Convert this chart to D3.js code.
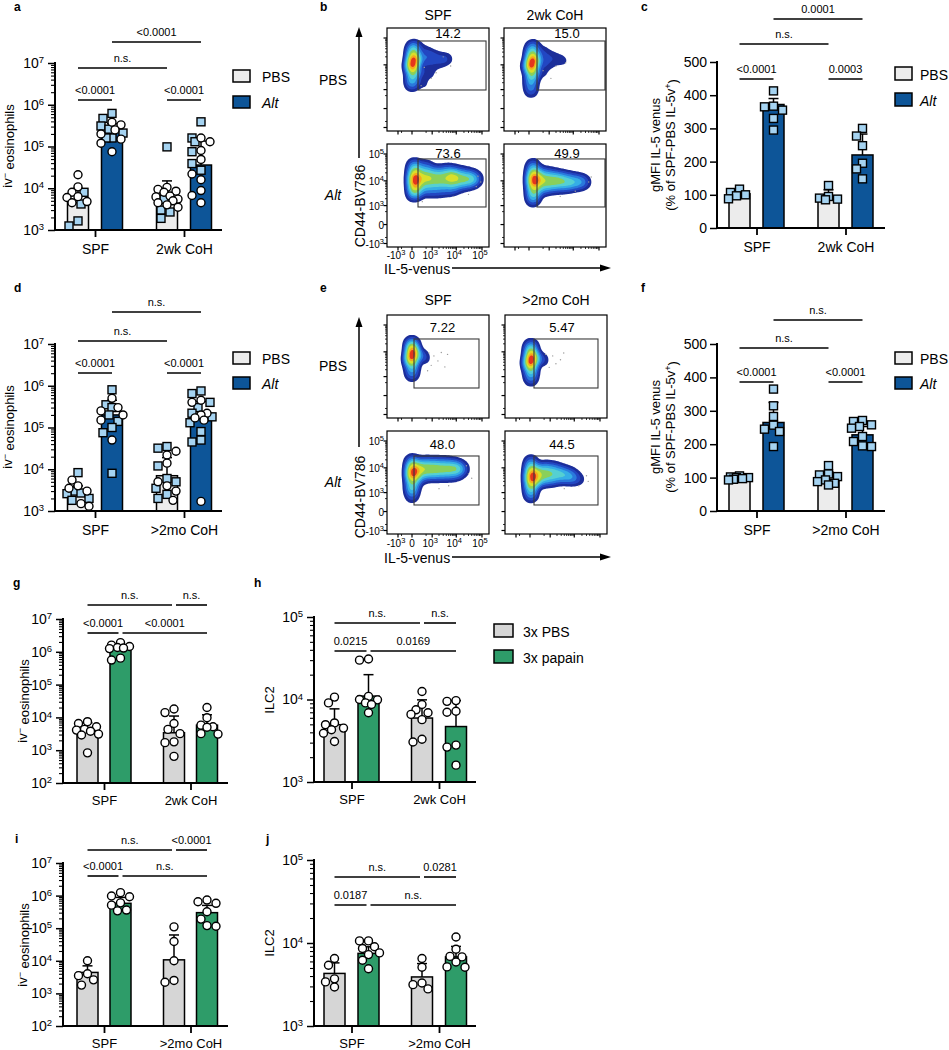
<!DOCTYPE html>
<html>
<head>
<meta charset="utf-8">
<script src="https://cdn.jsdelivr.net/npm/d3@7"></script>
<style>
  body { margin: 0; background: #fff; }
  svg text { font-family: "Liberation Sans", Arial, sans-serif; fill: #000; }
</style>
</head>
<body>
<svg id="fig" width="949" height="1050"></svg>
<script>
// ---------------- categories / series ----------------
var groups2wk = ["SPF", "2wk CoH"];
var groups2mo = ["SPF", ">2mo CoH"];
var seriesAlt = ["PBS", "Alt"];
var seriesPap = ["3x PBS", "3x papain"];

var ticksLog37 = [1e3, 1e4, 1e5, 1e6, 1e7];
var ticksLog27 = [1e2, 1e3, 1e4, 1e5, 1e6, 1e7];
var ticksLog35 = [1e3, 1e4, 1e5];
var ticksLin = [0, 100, 200, 300, 400, 500];

// bar order: SPF-PBS, SPF-treated, CoH-PBS, CoH-treated
// panel a : iv- eosinophils, 2wk CoH
var aMean = [4500, 220000, 6000, 36000];
var aErr = [10000, 350000, 15000, 135000];
var aCircles = [[21000, 10800, 8000, 6300, 6000, 4800, 4500],
                [380000, 330000, 250000, 200000, 150000, 120000, 75000],
                [10500, 9400, 8500, 8000, 6500, 6200, 5500, 5000, 4500, 4000, 3500],
                [160000, 130000, 80000, 49000, 22000, 16000, 8800, 6700, 4500]];
var aSquares = [[8000, 4200, 1650, 1250],
                [620000, 470000, 310000, 260000, 210000, 160000, 160000],
                [98000, 5400, 3000, 2700, 1900],
                [390000, 160000, 130000, 75000, 39000, 27000]];
var aSig = [["<0.0001", 0, 1, 0], ["<0.0001", 2, 3, 0], ["n.s.", 0, 2, 1], ["<0.0001", 1, 3, 2]];

// panel c : gMFI IL-5 venus, 2wk CoH
var cMean = [103, 372, 97, 220];
var cErr = [110, 390, 115, 283];
var cSquares = [[117, 107, 100, 97, 88],
                [413, 367, 365, 355, 330, 295],
                [128, 95, 90, 87, 85],
                [300, 277, 248, 195, 178, 148]];
var cSig = [["<0.0001", 0, 1, 0], ["0.0003", 2, 3, 0], ["n.s.", 0, 2, 1], ["0.0001", 1, 3, 2]];

// panel d : iv- eosinophils, >2mo CoH
var dMean = [3000, 200000, 7000, 180000];
var dErr = [4000, 450000, 19000, 420000];
var dCircles = [[5500, 4000, 3500, 3000, 1500, 1300],
                [500000, 300000, 250000, 200000, 150000, 50000],
                [27000, 22000, 14000, 5000, 4000, 3000, 1800],
                [450000, 400000, 220000, 200000, 170000, 150000, 1700]];
var dSquares = [[8300, 3000, 2700, 2600, 2000, 1800],
                [800000, 350000, 300000, 200000, 140000, 100000, 75000, 8000],
                [35000, 32000, 12000, 6000, 5000, 3500, 2500, 2000],
                [750000, 650000, 400000, 300000, 220000, 180000, 130000, 80000, 50000, 45000]];
var dSig = [["<0.0001", 0, 1, 0], ["<0.0001", 2, 3, 0], ["n.s.", 0, 2, 1], ["n.s.", 1, 3, 2]];

// panel f : gMFI IL-5 venus, >2mo CoH
var fMean = [100, 265, 102, 228];
var fErr = [106, 325, 118, 253];
var fSquares = [[105, 102, 100, 100, 97, 95, 93],
                [365, 315, 283, 257, 245, 238, 193],
                [136, 111, 108, 103, 93, 88, 83, 78],
                [271, 268, 258, 253, 248, 223, 208, 195, 193]];
var fSig = [["<0.0001", 0, 1, 0], ["<0.0001", 2, 3, 0], ["n.s.", 0, 2, 1], ["n.s.", 1, 3, 2]];

// panel g : iv- eosinophils, papain, 2wk CoH
var gMean = [4300, 1400000, 3400, 5800];
var gErr = [6800, 1600000, 11000, 12000];
var gCircles = [[7400, 6500, 5200, 4300, 4100, 3800, 3100, 2900, 830],
                [1900000, 1600000, 1450000, 1350000, 1300000, 1250000, 640000, 560000],
                [18000, 14000, 6500, 4300, 3200, 1800, 1700, 650],
                [20000, 9800, 5800, 5200, 5000, 3200, 3100]];
var gSig = [["<0.0001", 0, 1, 0], ["<0.0001", 1, 3, 0], ["n.s.", 0, 2, 1], ["n.s.", 2, 3, 1]];

// panel h : ILC2, papain, 2wk CoH
var hMean = [4950, 11000, 5960, 4700];
var hErr = [7700, 20000, 9900, 9700];
var hCircles = [[10700, 9100, 5200, 4950, 4500, 4300, 3900, 3100],
                [31000, 30000, 10900, 10000, 9900, 9100, 8700, 6900],
                [12500, 8700, 7500, 6900, 6600, 5700, 3300, 3050],
                [9700, 9500, 7200, 7000, 2800, 2650, 1600]];
var hSig = [["0.0215", 0, 1, 0], ["0.0169", 1, 3, 0], ["n.s.", 0, 2, 1], ["n.s.", 2, 3, 1]];

// panel i : iv- eosinophils, papain, >2mo CoH
var iMean = [4400, 580000, 10700, 300000];
var iErr = [7000, 880000, 62000, 500000];
var iCircles = [[10000, 4000, 3500, 2600, 1800],
                [1230000, 970000, 920000, 600000, 510000, 360000, 340000],
                [110000, 39000, 10000, 2500, 2200],
                [730000, 650000, 580000, 320000, 190000, 120000, 115000]];
var iSig = [["<0.0001", 0, 1, 0], ["n.s.", 1, 3, 0], ["n.s.", 0, 2, 1], ["<0.0001", 2, 3, 1]];

// panel j : ILC2, papain, >2mo CoH
var jMean = [4300, 7500, 3900, 6800];
var jErr = [5760, 9000, 5650, 9100];
var jCircles = [[6500, 5400, 3700, 3400, 2950],
                [10600, 10600, 9000, 8600, 7600, 7250, 6200, 4900],
                [6500, 5100, 3300, 3150, 2800],
                [11800, 8400, 6900, 6800, 5900, 5150, 5100]];
var jSig = [["0.0187", 0, 1, 0], ["n.s.", 1, 3, 0], ["n.s.", 0, 2, 1], ["0.0281", 2, 3, 1]];

// ---------------- flow cytometry (IL-5-venus vs CD44-BV786) ----------------
var flowRows = ["PBS", "Alt"];
var flowXTicks = [-1000, 0, 1000, 10000, 100000];
var flowYTicks = [100000, 10000, 1000, 0, -1000];
// gated % (PBS-SPF, PBS-CoH, Alt-SPF, Alt-CoH)
var gateNums2wk = ["14.2", "15.0", "73.6", "49.9"];
var gateNums2mo = ["7.22", "5.47", "48.0", "44.5"];
// gates: [venus min, venus max, CD44 min, CD44 max]
var gates2wk = [[141, 143000, 960, 77500], [207, 170000, 960, 77500],
                [141, 143000, 862, 65600], [207, 170000, 862, 65600]];
var gates2mo = [[39, 76500, 225, 30300], [85, 83600, 225, 30300],
                [39, 76500, 187, 27800], [85, 83600, 187, 27800]];
// density anchors [venus, CD44, weight]
var dens2wkPbsSpf = [[18,12800,10],[18,21500,7],[18,7600,7],[18,36000,4],[18,4470,5],[0,2580,3],[0,1600,2],[39,50700,2],[112,18100,3],[-39,9060,3],
  [331,36000,1],[331,15200,1.5],[331,5340,1.2],[331,1890,0.8],[706,23500,1.5],[881,10800,0.9],[881,4470,0.6],
  [1342,19700,1.2],[2000,9900,0.5],[2670,16600,0.9],[3550,16600,0.5],[4690,16600,0.6]];
var dens2wkPbsCoh = [[61,11750,10],[61,19700,7],[61,6960,7],[61,33000,4],[61,4090,5],[39,2350,3],[39,1310,2],[39,770,1.2],[85,50700,2],[172,16600,3],[-18,9060,3],
  [434,30300,1.3],[434,12800,1.5],[434,5340,1],[1090,21500,1],[1090,10800,0.8],[2430,16600,0.8],[4280,14000,0.5]];
var dens2wkAltSpf = [[39,10800,10],[39,18100,7],[39,6370,7],[39,30300,3.5],[39,4090,4],[39,2840,2.5],[39,42500,1.5],
  [207,11750,6],[207,21500,3.5],[207,6370,3.5],[207,36000,1.2],[207,3710,1.5],
  [557,12800,6.8],[557,23500,3.2],[557,6960,3.2],[557,39000,1],[557,4090,1.5],
  [1210,11750,5.5],[1210,21500,2.8],[1210,6370,2.8],[1210,3710,1.2],
  [2430,11750,5.5],[2430,21500,2.8],[2430,6370,2.8],[2430,3710,1],
  [4690,12800,5.8],[4690,23500,2.8],[4690,6960,2.8],[4690,4090,1],
  [8130,12800,6.8],[8130,21500,2.8],[8130,6960,2.8],[8130,4470,1],
  [15300,11750,5],[15300,19700,2.3],[15300,6960,2.3],
  [28700,11750,4],[28700,18100,1.8],[28700,7600,1.8],
  [49000,11750,2.5],[49000,16600,1],[49000,8300,1],[70000,11750,0.8]];
var dens2wkAltCoh = [[85,10800,10],[85,18100,7],[85,6370,7],[85,30300,3],[85,3710,4.5],[85,2350,3],[85,1600,1.5],[85,42500,1.2],
  [286,10800,7],[286,19700,3.5],[286,5830,3.5],[286,3400,1.2],
  [706,9900,6],[706,18100,3],[706,5340,3],
  [1490,9900,5.5],[1490,16600,2.5],[1490,5830,2.5],
  [2940,9900,5],[2940,15200,2],[2940,5830,2],
  [5650,9060,4],[5650,14000,1.6],[5650,5830,1.6],
  [10700,9060,3],[10700,12800,1.2],[10700,6370,1.2],
  [20000,9060,2],[20000,11750,0.8],[20000,6960,0.8],[31400,9060,1]];
var dens2moPbsSpf = [[0,7600,10],[0,12800,7],[0,4470,7],[0,18100,4],[0,2580,4],[0,1450,2],[0,23500,1.5],[0,1080,1],[39,9900,3],[207,7600,2],[380,5830,1.2],[-61,5340,3]];
var dens2moPbsCoh = [[18,4890,10],[18,8300,7],[18,2840,7],[18,12800,4],[18,1600,4],[18,960,2],[18,18100,2],[18,610,1],[85,6370,3],[245,5340,1.5],[434,4870,1],[-39,3710,3]];
var dens2moAltSpf = [[0,6370,10],[0,10800,7],[0,3710,7],[0,18100,3],[0,1890,4.5],[0,1190,3],[0,610,1.5],
  [141,8300,6],[141,14000,3],[141,4870,3.5],[141,2840,1.2],
  [434,9060,5.5],[434,15200,2.8],[434,5340,2.8],
  [1000,9060,5.5],[1000,15200,2.5],[1000,5340,2.5],
  [2000,9060,5],[2000,15200,2.2],[2000,5340,2.2],
  [3890,9060,5],[3890,15200,2.2],[3890,5340,2.2],
  [7430,9060,4.5],[7430,14000,2],[7430,5340,1.8],
  [12800,9060,3],[12800,12800,1.3],[12800,5830,1.3],[20000,9060,1.2]];
var dens2moAltCoh = [[18,4090,10],[18,6960,8],[18,2350,7],[18,11750,4],[18,1310,4.5],[18,690,2.5],[18,18100,2],
  [172,4870,6],[172,8300,4],[172,2840,4],
  [494,5830,5],[494,9900,3],[494,3400,3],
  [1090,5830,4.5],[1090,9900,2.5],[1090,3400,2.5],
  [2200,5830,3.5],[2200,9060,1.8],[2200,3710,1.8],
  [4280,5340,3],[4280,7600,1.3],[4280,3710,1.3],
  [8130,4470,2.2],[8130,6370,1],[8130,3400,1],[15300,3710,1.2]];
// sparse single events [venus, CD44]
var ev2wkPbsSpf = [[400,8000],[1500,5000],[3000,20000],[900,3000],[6000,9000],[250,1500]];
var ev2wkPbsCoh = [[500,6000],[2000,9000],[1200,3000],[5000,12000]];
var ev2wkAltSpf = [[70000,15000],[60000,6000],[30000,3000],[8000,2500],[300,1500],[90000,9000]];
var ev2wkAltCoh = [[40000,9000],[50000,14000],[12000,4000],[3000,2500]];
var ev2moPbsSpf = [[700,9000],[1200,7000],[2500,9500],[1800,4500],[900,3000],[4500,8000],[3500,2600],[600,1800]];
var ev2moPbsCoh = [[600,8000],[1300,7000],[2800,5000],[1800,3500],[3800,9000],[900,2500]];
var ev2moAltSpf = [[30000,6000],[40000,4000],[5000,2000],[2000,1500],[25000,12000]];
var ev2moAltCoh = [[30000,5000],[35000,3000],[15000,2000],[4000,1500]];

// ================= drawing =================
var svg = d3.select("#fig");
var BLACK = "#000";

function powText(sel, supSize) {
  sel.each(function(d) {
    var t = d3.select(this);
    t.text("");
    t.append("tspan").text("10");
    t.append("tspan").attr("dy", "-0.5em").attr("font-size", supSize).text(Math.round(Math.log10(d)));
  });
}

function dodge(items, y, cx, r) {
  var offs = [0, -6, 6, -3, 3, -9, 9, -11, 11];
  var placed = [];
  items.sort(function(a, b) { return b.v - a.v; }).forEach(function(it) {
    var py = y(it.v), best = 0, bestD = -1;
    for (var i = 0; i < offs.length; i++) {
      var dmin = Infinity;
      placed.forEach(function(q) {
        var dd = Math.hypot(q.x - (cx + offs[i]), q.y - py);
        if (dd < dmin) dmin = dd;
      });
      if (dmin >= 2 * r) { best = offs[i]; break; }
      if (dmin > bestD) { bestD = dmin; best = offs[i]; }
    }
    it.x = cx + best; it.y = py;
    placed.push(it);
  });
}

function barPanel(p) {
  var g = svg.append("g");
  var y = (p.log ? d3.scaleLog() : d3.scaleLinear()).domain(p.domain).range([p.yBot, p.yTop]);
  var x0 = d3.scalePoint().domain(p.groups).range(p.centers);
  var x1 = d3.scalePoint().domain(p.series).range([-p.off, p.off]);
  var r = 4;

  var bars = [];
  p.groups.forEach(function(gr, gi) {
    p.series.forEach(function(s, si) {
      var k = gi * 2 + si;
      var pts = (p.circles ? p.circles[k] : []).map(function(v) { return {v: v, shape: "c"}; })
        .concat((p.squares ? p.squares[k] : []).map(function(v) { return {v: v, shape: "s"}; }));
      bars.push({k: k, si: si, cx: x0(gr) + x1(s), mean: p.mean[k], err: p.err[k], pts: pts});
    });
  });

  g.selectAll("rect.bar").data(bars).join("rect").attr("class", "bar")
    .attr("x", function(d) { return d.cx - p.bw / 2; }).attr("width", p.bw)
    .attr("y", function(d) { return y(d.mean); })
    .attr("height", function(d) { return p.yBot - y(d.mean); })
    .attr("fill", function(d) { return p.colors[d.si]; })
    .attr("stroke", BLACK).attr("stroke-width", 1.5);

  // error bars (mean + SD, upper only)
  bars.forEach(function(b) {
    g.append("line").attr("x1", b.cx).attr("x2", b.cx).attr("y1", y(b.mean)).attr("y2", y(b.err))
      .attr("stroke", BLACK).attr("stroke-width", 1.5);
    g.append("line").attr("x1", b.cx - 5).attr("x2", b.cx + 5).attr("y1", y(b.err)).attr("y2", y(b.err))
      .attr("stroke", BLACK).attr("stroke-width", 1.5);
  });

  // individual mice
  bars.forEach(function(b) { dodge(b.pts, y, b.cx, r); });
  var allPts = bars.reduce(function(acc, b) { return acc.concat(b.pts); }, []);
  g.selectAll("rect.sq").data(allPts.filter(function(d) { return d.shape === "s"; })).join("rect")
    .attr("class", "sq")
    .attr("x", function(d) { return d.x - 4; }).attr("y", function(d) { return d.y - 4; })
    .attr("width", 8).attr("height", 8)
    .attr("fill", "#a5d3f1").attr("stroke", BLACK).attr("stroke-width", 1.4);
  g.selectAll("circle.pt").data(allPts.filter(function(d) { return d.shape === "c"; })).join("circle")
    .attr("class", "pt")
    .attr("cx", function(d) { return d.x; }).attr("cy", function(d) { return d.y; }).attr("r", r)
    .attr("fill", "#fff").attr("stroke", BLACK).attr("stroke-width", 1.4);

  // y axis
  var ya = g.append("g").attr("transform", "translate(" + p.ax + ",0)")
    .call(d3.axisLeft(y).tickValues(p.ticks).tickSize(7).tickPadding(p.log ? 4 : 3));
  ya.select(".domain").remove();
  ya.selectAll("line").attr("stroke", BLACK).attr("stroke-width", 1.5);
  ya.selectAll("text").attr("font-size", 14).attr("font-family", null);
  if (p.log) {
    powText(ya.selectAll("text"), 9.5);
    var minors = [];
    var lo = Math.round(Math.log10(p.domain[0])), hi = Math.round(Math.log10(p.domain[1]));
    for (var e = lo; e < hi; e++) for (var m = 2; m <= 9; m++) minors.push(m * Math.pow(10, e));
    var ym = g.append("g").attr("transform", "translate(" + p.ax + ",0)")
      .call(d3.axisLeft(y).tickValues(minors).tickSize(4).tickFormat(""));
    ym.select(".domain").remove();
    ym.selectAll("line").attr("stroke", BLACK).attr("stroke-width", 1.1);
  }
  g.append("line").attr("x1", p.ax).attr("x2", p.ax).attr("y1", p.yTop - 1).attr("y2", p.yBot)
    .attr("stroke", BLACK).attr("stroke-width", 2);

  // x axis
  var xa = g.append("g").attr("transform", "translate(0," + p.yBot + ")")
    .call(d3.axisBottom(x0).tickSize(7).tickPadding(p.catPad));
  xa.select(".domain").remove();
  xa.selectAll("line").attr("stroke", BLACK).attr("stroke-width", 1.8);
  xa.selectAll("text").attr("font-size", p.catSize).attr("font-family", null);
  g.append("line").attr("x1", p.ax - 1).attr("x2", p.axEnd).attr("y1", p.yBot).attr("y2", p.yBot)
    .attr("stroke", BLACK).attr("stroke-width", 2);

  // significance brackets
  p.sig.forEach(function(s) {
    var xa_ = bars[s[1]].cx, xb_ = bars[s[2]].cx, yy = p.sigY[s[3]];
    p.sig.forEach(function(o) {
      if (o === s || o[3] !== s[3]) return;
      if (o[1] === s[2] || o[2] === s[2]) xb_ -= 2;
      if (o[1] === s[1] || o[2] === s[1]) xa_ += 2;
    });
    g.append("line").attr("x1", xa_).attr("x2", xb_).attr("y1", yy).attr("y2", yy)
      .attr("stroke", BLACK).attr("stroke-width", 1.6);
    g.append("text").attr("x", (xa_ + xb_) / 2).attr("y", yy - 6).attr("text-anchor", "middle")
      .attr("font-size", 11).text(s[0]);
  });

  // legend
  if (p.legend) {
    p.series.forEach(function(s, i) {
      var ly = p.legend[1] + i * p.legend[2];
      g.append("rect").attr("x", p.legend[0]).attr("y", ly).attr("width", p.legend[3]).attr("height", p.legend[4])
        .attr("fill", p.colors[i]).attr("stroke", BLACK).attr("stroke-width", 1.5);
      g.append("text").attr("x", p.legend[0] + p.legend[5]).attr("y", ly + p.legend[4]).attr("font-size", 14)
        .style("font-style", s === "Alt" ? "italic" : null).text(s);
    });
  }

  // y label
  p.ylab.forEach(function(line) {
    var t = g.append("text").attr("transform", "translate(" + line.x + "," + p.ylabY + ") rotate(-90)")
      .attr("text-anchor", "middle").attr("font-size", 13);
    t.append("tspan").text(line.a);
    if (line.sup) {
      t.append("tspan").attr("dy", "-0.45em").attr("font-size", 9).text(line.sup);
      t.append("tspan").attr("dy", "0.45em").text(line.b);
    }
  });
}

var altColors = ["#ececec", "#0d5598"];
var papColors = ["#d6d6d6", "#2e9c69"];
var eosLab = function(x) { return [{x: x, a: "iv", sup: "\u2212", b: " eosinophils"}]; };
var mfiLab = [{x: 660, a: "gMFI IL-5 venus"}, {x: 675, a: "(% of SPF-PBS IL-5v", sup: "+", b: ")"}];

barPanel({groups: groups2wk, series: seriesAlt, mean: aMean, err: aErr, circles: aCircles, squares: aSquares,
  sig: aSig, log: true, domain: [1e3, 1e7], ticks: ticksLog37, colors: altColors,
  ax: 55, axEnd: 222, yBot: 230, yTop: 63, centers: [95, 184], off: 17, bw: 21,
  sigY: [100, 68, 42], legend: [233, 70, 26, 17, 12, 29], ylab: eosLab(12), ylabY: 146, catSize: 14, catPad: 7});
barPanel({groups: groups2wk, series: seriesAlt, mean: cMean, err: cErr, squares: cSquares,
  sig: cSig, log: false, domain: [0, 500], ticks: ticksLin, colors: altColors,
  ax: 717, axEnd: 885, yBot: 228, yTop: 62, centers: [756.5, 845.5], off: 17, bw: 21,
  sigY: [79, 44, 19], legend: [895, 67, 26, 17, 13, 25], ylab: mfiLab, ylabY: 145, catSize: 14, catPad: 7});
barPanel({groups: groups2mo, series: seriesAlt, mean: dMean, err: dErr, circles: dCircles, squares: dSquares,
  sig: dSig, log: true, domain: [1e3, 1e7], ticks: ticksLog37, colors: altColors,
  ax: 55, axEnd: 222, yBot: 511, yTop: 344, centers: [95, 184], off: 17, bw: 21,
  sigY: [373, 341, 312], legend: [233, 352, 25, 17, 12, 29], ylab: eosLab(12), ylabY: 427, catSize: 14, catPad: 7});
barPanel({groups: groups2mo, series: seriesAlt, mean: fMean, err: fErr, squares: fSquares,
  sig: fSig, log: false, domain: [0, 500], ticks: ticksLin, colors: altColors,
  ax: 717, axEnd: 885, yBot: 511, yTop: 344, centers: [756.5, 845.5], off: 17, bw: 21,
  sigY: [382, 348, 320], legend: [895, 352, 25, 17, 12, 25], ylab: mfiLab, ylabY: 427, catSize: 14, catPad: 7});
barPanel({groups: groups2wk, series: seriesPap, mean: gMean, err: gErr, circles: gCircles,
  sig: gSig, log: true, domain: [1e2, 1e7], ticks: ticksLog27, colors: papColors,
  ax: 63, axEnd: 228, yBot: 783, yTop: 619, centers: [104, 190.5], off: 16.5, bw: 21,
  sigY: [633, 605], legend: null, ylab: eosLab(27), ylabY: 701, catSize: 13, catPad: 6});
barPanel({groups: groups2wk, series: seriesPap, mean: hMean, err: hErr, circles: hCircles,
  sig: hSig, log: true, domain: [1e3, 1e5], ticks: ticksLog35, colors: papColors,
  ax: 314, axEnd: 476, yBot: 782, yTop: 617, centers: [351.5, 439], off: 17, bw: 21,
  sigY: [651, 623], legend: [494, 624, 26, 19, 13, 29], ylab: [{x: 274, a: "ILC2"}], ylabY: 700, catSize: 13, catPad: 6});
barPanel({groups: groups2mo, series: seriesPap, mean: iMean, err: iErr, circles: iCircles,
  sig: iSig, log: true, domain: [1e2, 1e7], ticks: ticksLog27, colors: papColors,
  ax: 63, axEnd: 228, yBot: 1026, yTop: 863, centers: [104, 190.5], off: 16.5, bw: 21,
  sigY: [876, 850], legend: null, ylab: eosLab(27), ylabY: 945, catSize: 13, catPad: 6});
barPanel({groups: groups2mo, series: seriesPap, mean: jMean, err: jErr, circles: jCircles,
  sig: jSig, log: true, domain: [1e3, 1e5], ticks: ticksLog35, colors: papColors,
  ax: 314, axEnd: 476, yBot: 1026, yTop: 860, centers: [351.5, 439], off: 17, bw: 21,
  sigY: [905, 877], legend: null, ylab: [{x: 274, a: "ILC2"}], ylabY: 943, catSize: 13, catPad: 6});

// ---------------- flow plots ----------------
var FW = 102, FH = 103;
// biexponential-like display: symlog on each side of zero
var fxPos = d3.scaleSymlog().constant(200).domain([0, 1e5]).range([25, 95]);
var fxNeg = d3.scaleSymlog().constant(100).domain([-1000, 0]).range([11, 25]);
function fx(v) { return v < 0 ? fxNeg(v) : fxPos(v); }
var fy = d3.scaleSymlog().constant(250).domain([-1000, 1e5]).range([99.5, 10]);
var flowLevels = [0.03, 0.08, 0.15, 0.24, 0.34, 0.46, 0.6, 0.75, 0.88];
var flowColors = ["#1d2e9a", "#2446c2", "#2a79dc", "#35aee6", "#55d0d2", "#8ad05a", "#d9df2a", "#f6a81c", "#e4341c"];

var defs = svg.append("defs");
defs.append("filter").attr("id", "soft").append("feGaussianBlur").attr("stdDeviation", 0.5);

function tickParts(v) {
  if (v === 0) return ["0", ""];
  return [(v < 0 ? "-" : "") + "10", String(Math.round(Math.log10(Math.abs(v))))];
}

function flowPlot(f) {
  var g = svg.append("g").attr("transform", "translate(" + f.x + "," + f.y + ")");
  var dens = d3.contourDensity()
    .x(function(d) { return fx(d[0]); }).y(function(d) { return fy(d[1]); })
    .weight(function(d) { return d[2]; })
    .size([FW, FH]).cellSize(1).bandwidth(4);
  var polys;
  if (dens.contours) {
    var c = dens.contours(f.pts);
    polys = flowLevels.map(function(l) { return c(c.max * l); });
  } else {
    var mx = d3.max(dens.thresholds(80)(f.pts), function(d) { return d.value; });
    polys = dens.thresholds(flowLevels.map(function(l) { return l * mx; }))(f.pts);
  }
  g.append("g").attr("filter", "url(#soft)").selectAll("path").data(polys).join("path")
    .attr("d", d3.geoPath()).attr("fill", function(d, i) { return flowColors[i]; });

  g.selectAll("circle.ev").data(f.events).join("circle").attr("class", "ev")
    .attr("cx", function(d) { return fx(d[0]); }).attr("cy", function(d) { return fy(d[1]); })
    .attr("r", 0.7).attr("fill", "#9a9a9a");

  // gate
  var gx1 = fx(f.gate[0]), gx2 = Math.min(FW - 1, fx(f.gate[1]));
  var gy1 = fy(f.gate[3]), gy2 = fy(f.gate[2]);
  g.append("rect").attr("x", gx1).attr("y", gy1).attr("width", gx2 - gx1).attr("height", gy2 - gy1)
    .attr("fill", "none").attr("stroke", "#3a3a3a").attr("stroke-width", 1.1);
  g.append("text").attr("x", (gx1 + gx2) / 2 - 4).attr("y", f.numY).attr("text-anchor", "middle")
    .attr("font-size", 13).text(f.num);

  // frame + ticks
  g.append("rect").attr("width", FW).attr("height", FH).attr("fill", "none")
    .attr("stroke", BLACK).attr("stroke-width", 1.2);
  var minorT = [];
  [1000, 10000].forEach(function(b) { for (var m = 2; m <= 9; m++) minorT.push(m * b); });
  minorT.push(-500, 500);
  flowXTicks.forEach(function(v) {
    g.append("line").attr("x1", fx(v)).attr("x2", fx(v)).attr("y1", FH).attr("y2", FH + 3.5).attr("stroke", BLACK).attr("stroke-width", 1.2);
  });
  flowYTicks.forEach(function(v) {
    g.append("line").attr("x1", -3.5).attr("x2", 0).attr("y1", fy(v)).attr("y2", fy(v)).attr("stroke", BLACK).attr("stroke-width", 1.2);
  });
  minorT.forEach(function(v) {
    g.append("line").attr("x1", fx(v)).attr("x2", fx(v)).attr("y1", FH).attr("y2", FH + 2).attr("stroke", BLACK).attr("stroke-width", 0.8);
    g.append("line").attr("x1", -2).attr("x2", 0).attr("y1", fy(v)).attr("y2", fy(v)).attr("stroke", BLACK).attr("stroke-width", 0.8);
  });

  if (f.labels) {
    flowXTicks.forEach(function(v) {
      var tp = tickParts(v);
      var t = g.append("text").attr("x", fx(v) - (tp[1] ? 2 : 0)).attr("y", f.xlabY).attr("text-anchor", "middle").attr("font-size", 10);
      t.append("tspan").text(tp[0]);
      if (tp[1]) t.append("tspan").attr("dy", "-0.5em").attr("font-size", 7.5).text(tp[1]);
    });
    flowYTicks.forEach(function(v) {
      var tp = tickParts(v);
      var t = g.append("text").attr("x", -3).attr("y", fy(v) + 4).attr("text-anchor", "end").attr("font-size", 10);
      t.append("tspan").text(tp[0]);
      if (tp[1]) t.append("tspan").attr("dy", "-0.5em").attr("font-size", 7.5).text(tp[1]);
    });
  }
}

function flowBlock(b) {
  var boxes = [[b.x0, b.y0], [b.x1, b.y0], [b.x0, b.y1], [b.x1, b.y1]];
  boxes.forEach(function(bx, i) {
    flowPlot({x: bx[0], y: bx[1], pts: b.dens[i], events: b.events[i], gate: b.gates[i],
      num: b.nums[i], numY: i < 2 ? b.numY[0] : b.numY[1], labels: i === 2, xlabY: b.xlabY});
  });
  b.cols.forEach(function(cn, i) {
    svg.append("text").attr("x", boxes[i][0] + FW / 2).attr("y", b.colY).attr("text-anchor", "middle")
      .attr("font-size", 14).text(cn);
  });
  flowRows.forEach(function(rn, i) {
    svg.append("text").attr("x", 333).attr("y", b.rowY[i]).attr("text-anchor", "middle")
      .attr("font-size", 14).style("font-style", rn === "Alt" ? "italic" : null).text(rn);
  });
  // axis arrows
  svg.append("line").attr("x1", 359).attr("x2", 359).attr("y1", b.arrowY[1]).attr("y2", b.arrowY[0] + 8)
    .attr("stroke", BLACK).attr("stroke-width", 1.5);
  svg.append("path").attr("d", "M355.5," + (b.arrowY[0] + 10) + "L362.5," + (b.arrowY[0] + 10) + "L359," + b.arrowY[0] + "Z");
  svg.append("text").attr("transform", "translate(365," + b.cdY + ") rotate(-90)").attr("text-anchor", "middle")
    .attr("font-size", 14).text("CD44-BV786");
  svg.append("text").attr("x", 384).attr("y", b.venusY + 6).attr("font-size", 14).text("IL-5-venus");
  svg.append("line").attr("x1", 452).attr("x2", 602).attr("y1", b.venusY).attr("y2", b.venusY)
    .attr("stroke", BLACK).attr("stroke-width", 1.5);
  svg.append("path").attr("d", "M600," + (b.venusY - 3.5) + "L600," + (b.venusY + 3.5) + "L611," + b.venusY + "Z");
}

flowBlock({x0: 387, x1: 504, y0: 28, y1: 144, cols: groups2wk, colY: 20, rowY: [85, 200],
  dens: [dens2wkPbsSpf, dens2wkPbsCoh, dens2wkAltSpf, dens2wkAltCoh],
  events: [ev2wkPbsSpf, ev2wkPbsCoh, ev2wkAltSpf, ev2wkAltCoh],
  gates: gates2wk, nums: gateNums2wk, numY: [10, 14], xlabY: 115,
  arrowY: [27, 158], cdY: 206, venusY: 268});
flowBlock({x0: 387, x1: 505, y0: 315, y1: 431, cols: groups2mo, colY: 305, rowY: [371, 487],
  dens: [dens2moPbsSpf, dens2moPbsCoh, dens2moAltSpf, dens2moAltCoh],
  events: [ev2moPbsSpf, ev2moPbsCoh, ev2moAltSpf, ev2moAltCoh],
  gates: gates2mo, nums: gateNums2mo, numY: [17, 18], xlabY: 116,
  arrowY: [317, 447], cdY: 497, venusY: 557});

// ---------------- panel letters ----------------
var letters = [["a", 14, 11], ["b", 320, 11], ["c", 641, 11], ["d", 14, 292], ["e", 320, 292], ["f", 641, 292],
               ["g", 13, 587], ["h", 254, 587], ["i", 15, 843], ["j", 266, 843]];
svg.selectAll("text.letter").data(letters).join("text").attr("class", "letter")
  .attr("x", function(d) { return d[1]; }).attr("y", function(d) { return d[2]; })
  .attr("font-size", 12).attr("font-weight", "bold").text(function(d) { return d[0]; });
</script>
</body>
</html>
